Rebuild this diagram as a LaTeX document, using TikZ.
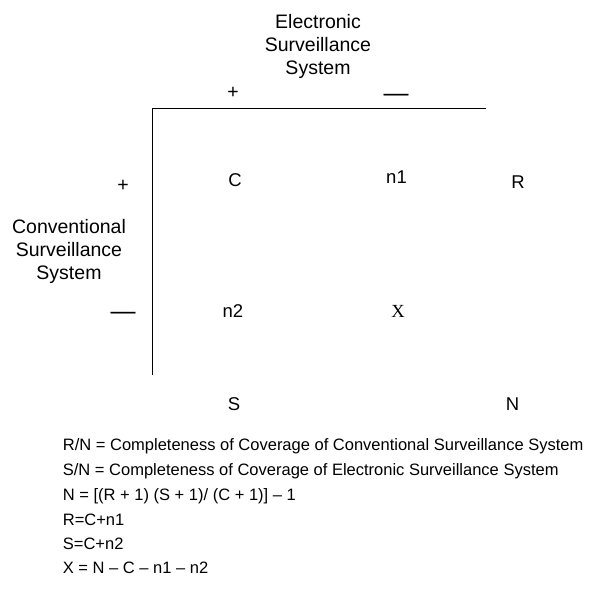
\documentclass[tikz,border=0pt]{standalone}
\usepackage{fontspec}
\setmainfont{Liberation Sans}
\newfontfamily\xfont{Liberation Serif}
\usepackage{tikz}

\begin{document}
\begin{tikzpicture}[x=1pt, y=-1pt,
    axis/.style={line width=1pt},
    head/.style={inner sep=0pt, align=center, anchor=north, font=\fontsize{19.5}{23.3}\selectfont},
    sign/.style={inner sep=0pt, anchor=center, font=\fontsize{19.5}{23}\selectfont},
    bar/.style={inner sep=0pt, anchor=base, font=\fontsize{25}{25}\selectfont},
    cell/.style={inner sep=0pt, anchor=base, font=\fontsize{18.5}{22}\selectfont},
    eqn/.style={inner sep=0pt, anchor=base west, font=\fontsize{16.5}{20}\selectfont}
    ]
    \useasboundingbox (0,0) rectangle (600,589);
    % axes
    \coordinate (corner) at (152,108.7);
    \coordinate (xend) at (486,108.7);
    \coordinate (yend) at (152,375);
    \draw[axis] (xend) -- (corner) -- (yend);
    % headings
    \node[head] (esys) at (318,14) {Electronic\\Surveillance\\System};
    \node[head] (csys) at (69,219) {Conventional\\Surveillance\\System};
    \node[sign] (eplus) at (233,92.5) {+};
    \node[bar] (eminus) at (396,101) {—};
    \node[sign] (cplus) at (123,186) {+};
    \node[bar] (cminus) at (123,319) {—};
    % cells
    \node[cell] (c) at (235,186) {C};
    \node[cell] (n1) at (396.5,183) {n1};
    \node[cell] (r) at (518,188) {R};
    \node[cell] (n2) at (233,317) {n2};
    \node[cell, font=\fontsize{18.5}{22}\xfont] (x) at (398,317) {X};
    \node[cell] (s) at (234,410) {S};
    \node[cell] (n) at (512.5,410) {N};
    % definitions
    \node[eqn] (eq1) at (62.7,450) {R/N = Completeness of Coverage of Conventional Surveillance System};
    \node[eqn] (eq2) at (62.7,475) {S/N = Completeness of Coverage of Electronic Surveillance System};
    \node[eqn] (eq3) at (62.7,500) {N = [(R + 1) (S + 1)/ (C + 1)] – 1};
    \node[eqn] (eq4) at (62.7,525) {R=C+n1};
    \node[eqn] (eq5) at (62.7,549) {S=C+n2};
    \node[eqn] (eq6) at (62.7,573) {X = N – C – n1 – n2};
\end{tikzpicture}
\end{document}
